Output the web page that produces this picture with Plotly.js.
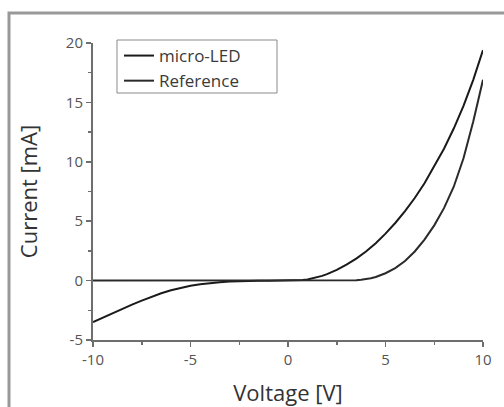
<!DOCTYPE html>
<html>
<head>
<meta charset="utf-8">
<script src="https://cdn.plot.ly/plotly-3.0.1.min.js"></script>
<style>html,body{margin:0;padding:0;background:#fff;}#chart{width:504px;height:407px;}</style>
</head>
<body>
<div id="chart"></div>
<script>
// Data
const seriesNames = ["micro-LED", "Reference"];
const voltageA = [-10,-9.5,-9,-8.5,-8,-7.5,-7,-6.5,-6,-5.5,-5,-4.5,-4,-3.5,-3,-2.5,-2,-1.5,-1,-0.5,0,0.5,0.75,1,1.25,1.5,1.75,2,2.5,3,3.5,4,4.5,5,5.5,6,6.5,7,7.5,8,8.5,9,9.5,10];
const currentA = [-3.5,-3.12,-2.75,-2.38,-2.02,-1.68,-1.36,-1.07,-0.82,-0.61,-0.44,-0.31,-0.21,-0.13,-0.08,-0.045,-0.02,-0.01,-0.003,0,0,0.02,0.05,0.1,0.18,0.28,0.4,0.55,0.9,1.35,1.85,2.45,3.15,3.95,4.85,5.85,6.95,8.2,9.6,11.1,12.8,14.7,16.9,19.4];
const voltageB = [-10,-8,-6,-4,-2,0,1,2,3,3.25,3.5,3.75,4,4.25,4.5,5,5.5,6,6.5,7,7.5,8,8.5,9,9.5,10];
const currentB = [0,0,0,0,0,0,0,0,0,0.01,0.03,0.07,0.12,0.2,0.3,0.62,1.05,1.65,2.45,3.45,4.65,6.1,7.9,10.3,13.4,16.9];
const xTicks = [-10,-5,0,5,10];
const yTicks = [-5,0,5,10,15,20];

const traces = [
  {x: voltageA, y: currentA, name: seriesNames[0], mode: "lines", line: {color: "#1a1a1a", width: 2}, legendgroup: "a"},
  {x: voltageB, y: currentB, name: seriesNames[1], mode: "lines", line: {color: "#2a2a2a", width: 2}, legendgroup: "b"}
];

const axisCommon = {
  showgrid: false, zeroline: false, showline: true, linecolor: "#6e6e6e", linewidth: 2,
  ticks: "outside", ticklen: 5, tickwidth: 1.5, tickcolor: "#6e6e6e",
  tickfont: {family: "Open Sans, sans-serif", size: 15, color: "#555"},
  mirror: false, automargin: false
};

const layout = {
  width: 504, height: 407,
  margin: {l: 93, r: 21, t: 43, b: 67},
  paper_bgcolor: "#fff", plot_bgcolor: "#fff",
  showlegend: true,
  xaxis: Object.assign({}, axisCommon, {
    range: [-10, 10], tickvals: xTicks, ticktext: xTicks.map(String),
    minor: {dtick: 2.5, tick0: 0, ticks: "outside", ticklen: 3, tickcolor: "#6e6e6e"},
    title: {text: "Voltage [V]", font: {family: "Open Sans, sans-serif", size: 22, color: "#333"}, standoff: 19}
  }),
  yaxis: Object.assign({}, axisCommon, {
    range: [-5, 20], tickvals: yTicks, ticktext: yTicks.map(String),
    minor: {dtick: 2.5, tick0: 0, ticks: "outside", ticklen: 3, tickcolor: "#6e6e6e"},
    title: {text: "Current [mA]", font: {family: "Open Sans, sans-serif", size: 22, color: "#333"}, standoff: 22}
  }),
  legend: {
    x: 0.0667, y: 1.0168, xanchor: "left", yanchor: "top",
    bgcolor: "rgba(0,0,0,0)", borderwidth: 0,
    font: {family: "Open Sans, sans-serif", size: 17, color: "#3a3a3a"},
    traceorder: "grouped", tracegroupgap: 0, itemwidth: 30
  },
  shapes: [
    {type: "rect", xref: "paper", yref: "paper", x0: -0.2154, x1: 1.2, y0: -0.3, y1: 1.101,
     line: {color: "#999", width: 3}, fillcolor: "rgba(0,0,0,0)", layer: "below"},
    {type: "rect", xref: "paper", yref: "paper", x0: 0.0615, x1: 0.4718, y0: 0.8316, y1: 1.0101,
     line: {color: "#8a8a8a", width: 1}, fillcolor: "#fff", layer: "above"}
  ]
};

Plotly.newPlot("chart", traces, layout, {displayModeBar: false, staticPlot: true});
</script>
</body>
</html>
